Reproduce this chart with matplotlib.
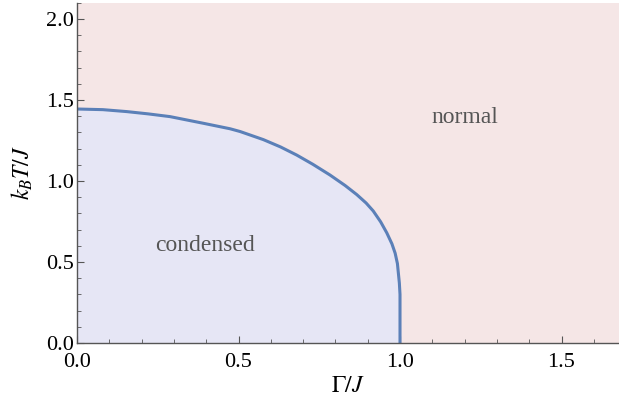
import matplotlib
matplotlib.use("Agg")
import matplotlib.pyplot as plt
from matplotlib.ticker import MultipleLocator, FormatStrFormatter

plt.rcParams['font.family'] = ['Liberation Serif', 'DejaVu Serif']
plt.rcParams['mathtext.fontset'] = 'stix'

# Phase boundary
gamma = [0.0, 0.08, 0.154, 0.22, 0.288, 0.391, 0.474, 0.505, 0.577, 0.63,
         0.680, 0.73, 0.783, 0.830, 0.866, 0.895, 0.917, 0.940, 0.959, 0.975,
         0.985, 0.992, 0.995, 0.998, 1.0, 1.0]
temp = [1.444, 1.440, 1.428, 1.414, 1.397, 1.356, 1.322, 1.305, 1.255, 1.210,
        1.160, 1.103, 1.037, 0.972, 0.916, 0.864, 0.815, 0.748, 0.680, 0.612,
        0.554, 0.490, 0.430, 0.370, 0.300, 0.0]

xlim = (0.0, 1.678)
ylim = (0.0, 2.1)
region_labels = ["condensed", "normal"]
region_pos = [(0.396, 0.60), (1.20, 1.39)]

fig = plt.figure(figsize=(6.19, 4.12), dpi=100)
ax = fig.add_axes([77/619, 69/412, 1 - 77/619, (343-2.7)/412])
ax.set_facecolor('#F5E6E6')
ax.fill_between(gamma, temp, 0, color='#E6E6F5', lw=0)
ax.plot(gamma, temp, color='#5B80B8', lw=2.2, solid_capstyle='butt',
        solid_joinstyle='round')
ax.set_xlim(*xlim)
ax.set_ylim(*ylim)

for s in ['top', 'right']:
    ax.spines[s].set_visible(False)
for s in ['left', 'bottom']:
    ax.spines[s].set_color('#555555')
    ax.spines[s].set_linewidth(1.0)
    ax.spines[s].set_zorder(5)

ax.xaxis.set_major_locator(MultipleLocator(0.5))
ax.xaxis.set_minor_locator(MultipleLocator(0.1))
ax.yaxis.set_major_locator(MultipleLocator(0.5))
ax.yaxis.set_minor_locator(MultipleLocator(0.1))
ax.xaxis.set_major_formatter(FormatStrFormatter('%.1f'))
ax.yaxis.set_major_formatter(FormatStrFormatter('%.1f'))
ax.tick_params(which='both', direction='in', color='#555555', labelsize=16,
               top=False, right=False)
ax.tick_params(which='major', length=5, width=0.8)
ax.tick_params(axis='x', which='major', pad=7)
ax.tick_params(axis='y', which='major', pad=2)
ax.tick_params(which='minor', length=3, width=0.6)

ax.set_xlabel(r'$\Gamma/J$', fontsize=17, labelpad=3)
ax.set_ylabel(r'$k_BT/J$', fontsize=17, labelpad=8)

for lab, (x, y) in zip(region_labels, region_pos):
    ax.text(x, y, lab, ha='center', va='center', fontsize=17, color='#555555')

fig.savefig('out.png', dpi=100)
